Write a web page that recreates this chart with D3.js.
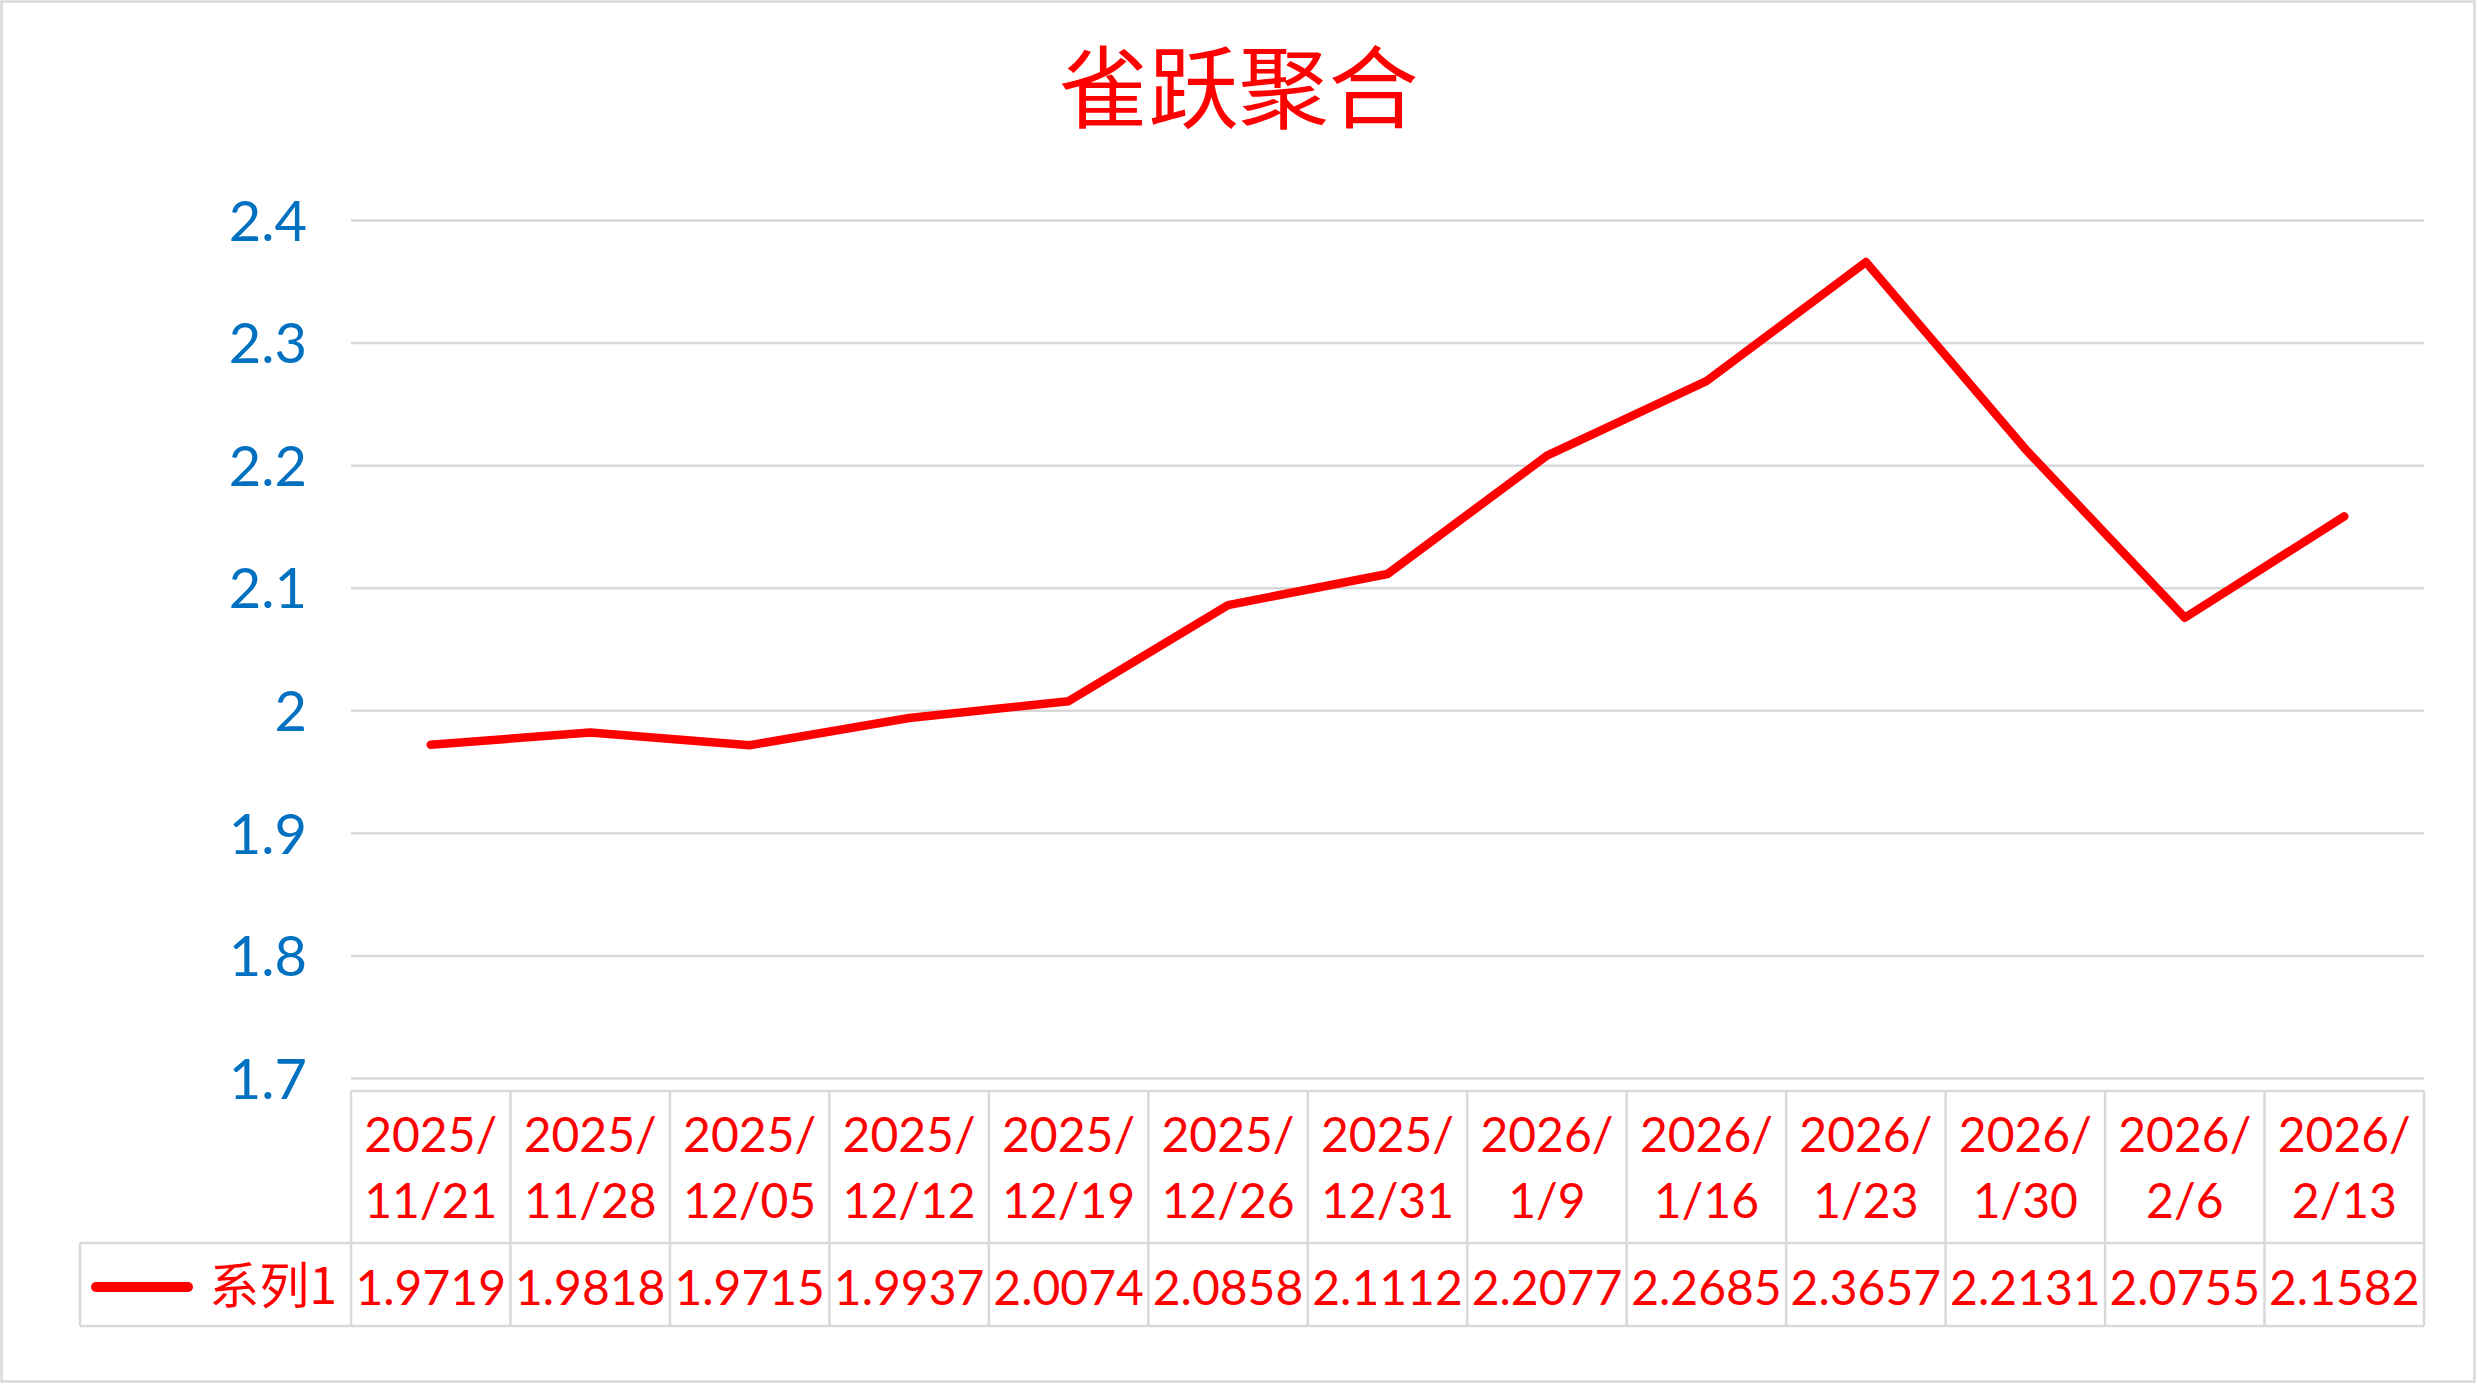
<!DOCTYPE html>
<html>
<head>
<meta charset="utf-8">
<script src="https://cdn.jsdelivr.net/npm/d3@7"></script>
<style>
  body { margin: 0; background: #fff; }
  svg { display: block; }
</style>
</head>
<body>
<div id="chart"></div>
<script>
// chart data
var title = "雀跃聚合";
var seriesName = "系列1";
var dateTop = ["2025/", "2025/", "2025/", "2025/", "2025/", "2025/", "2025/",
  "2026/", "2026/", "2026/", "2026/", "2026/", "2026/"];
var dateBottom = ["11/21", "11/28", "12/05", "12/12", "12/19", "12/26", "12/31",
  "1/9", "1/16", "1/23", "1/30", "2/6", "2/13"];
var values = [1.9719, 1.9818, 1.9715, 1.9937, 2.0074, 2.0858, 2.1112,
  2.2077, 2.2685, 2.3657, 2.2131, 2.0755, 2.1582];
var yTicks = [1.7, 1.8, 1.9, 2, 2.1, 2.2, 2.3, 2.4];

var W = 2477, H = 1384;
var plot = { left: 351, right: 2424, top: 220, bottom: 1078 };
var table = { headTop: 1091, rowTop: 1243, rowBottom: 1326, legendLeft: 80 };
var GRID = "#d9d9d9";
var RED = "#ff0000";
var LATIN = "Lato, 'Open Sans', sans-serif";
var CJK = "'Noto Sans CJK SC', sans-serif";

var svg = d3.select("#chart").append("svg")
  .attr("width", W)
  .attr("height", H);

// outer chart border
svg.append("rect")
  .attr("x", 1.5).attr("y", 1.5)
  .attr("width", W - 4).attr("height", H - 4)
  .attr("fill", "#fff")
  .attr("stroke", GRID)
  .attr("stroke-width", 2.5);

svg.append("text")
  .attr("x", W / 2)
  .attr("y", 121)
  .attr("text-anchor", "middle")
  .attr("font-family", CJK)
  .attr("font-size", 90)
  .attr("fill", RED)
  .text(title);

var idx = d3.range(values.length);
var x = d3.scaleBand().domain(idx).range([plot.left, plot.right]).padding(0);
var y = d3.scaleLinear().domain([1.7, 2.4]).range([plot.bottom, plot.top]);

// gridlines + y labels
var yAxis = svg.append("g")
  .attr("transform", "translate(" + plot.left + ",0)")
  .call(d3.axisLeft(y)
    .tickValues(yTicks)
    .tickSize(-(plot.right - plot.left))
    .tickPadding(44)
    .tickFormat(function (d) { return String(d); }));

yAxis.select(".domain").remove();
yAxis.selectAll(".tick line")
  .attr("stroke", GRID)
  .attr("stroke-width", 2.5);
yAxis.selectAll(".tick text")
  .attr("font-family", LATIN)
  .attr("font-size", 56)
  .attr("fill", "#0070c0")
  .attr("dy", "0.36em");

// the series line
var line = d3.line()
  .x(function (d, i) { return x(i) + x.bandwidth() / 2; })
  .y(function (d) { return y(d); });

svg.append("path")
  .datum(values)
  .attr("d", line)
  .attr("fill", "none")
  .attr("stroke", RED)
  .attr("stroke-width", 8.5)
  .attr("stroke-linejoin", "round")
  .attr("stroke-linecap", "round");

// data table below the plot
var tg = svg.append("g").attr("stroke", GRID).attr("stroke-width", 2.5);

tg.append("line")
  .attr("x1", plot.left).attr("x2", plot.right)
  .attr("y1", table.headTop).attr("y2", table.headTop);
tg.append("line")
  .attr("x1", table.legendLeft).attr("x2", plot.right)
  .attr("y1", table.rowTop).attr("y2", table.rowTop);
tg.append("line")
  .attr("x1", table.legendLeft).attr("x2", plot.right)
  .attr("y1", table.rowBottom).attr("y2", table.rowBottom);
tg.append("line")
  .attr("x1", table.legendLeft).attr("x2", table.legendLeft)
  .attr("y1", table.rowTop).attr("y2", table.rowBottom);

tg.selectAll("line.col")
  .data(idx.concat([values.length]))
  .enter().append("line")
  .attr("class", "col")
  .attr("x1", function (i) { return i < values.length ? x(i) : plot.right; })
  .attr("x2", function (i) { return i < values.length ? x(i) : plot.right; })
  .attr("y1", table.headTop)
  .attr("y2", table.rowBottom);

var cells = svg.append("g")
  .attr("font-family", LATIN)
  .attr("font-size", 48)
  .attr("fill", RED)
  .attr("text-anchor", "middle");

cells.selectAll("text.top")
  .data(dateTop)
  .enter().append("text")
  .attr("class", "top")
  .attr("x", function (d, i) { return x(i) + x.bandwidth() / 2; })
  .attr("y", 1152)
  .text(function (d) { return d; });

cells.selectAll("text.bottom")
  .data(dateBottom)
  .enter().append("text")
  .attr("class", "bottom")
  .attr("x", function (d, i) { return x(i) + x.bandwidth() / 2; })
  .attr("y", 1218)
  .text(function (d) { return d; });

cells.selectAll("text.val")
  .data(values)
  .enter().append("text")
  .attr("class", "val")
  .attr("x", function (d, i) { return x(i) + x.bandwidth() / 2; })
  .attr("y", 1305)
  .text(function (d) { return d.toFixed(4); });

// legend key in the row header
svg.append("line")
  .attr("x1", 96).attr("x2", 188)
  .attr("y1", 1287).attr("y2", 1287)
  .attr("stroke", RED)
  .attr("stroke-width", 10)
  .attr("stroke-linecap", "round");

svg.append("text")
  .attr("x", 337)
  .attr("y", 1304)
  .attr("text-anchor", "end")
  .attr("font-family", CJK)
  .attr("font-size", 50)
  .attr("fill", RED)
  .text(seriesName);
</script>
</body>
</html>
